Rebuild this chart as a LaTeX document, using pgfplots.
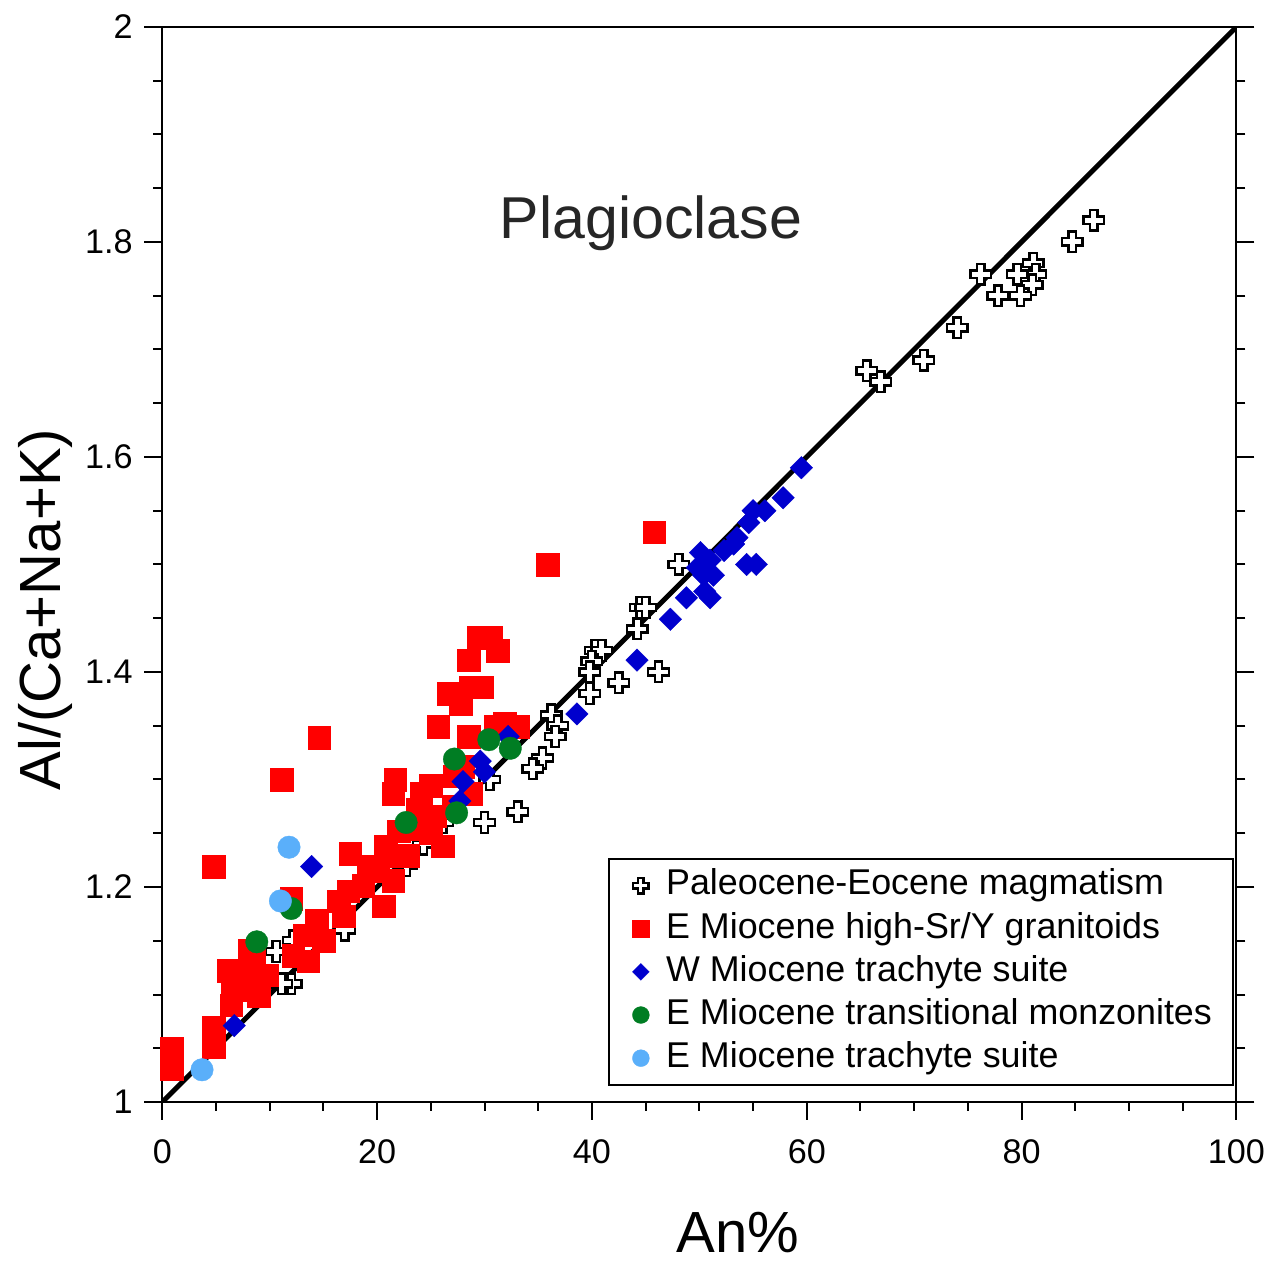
\documentclass[border=0pt]{standalone}
\usepackage{fontspec}
\setmainfont{Liberation Sans}
\usepackage{pgfplots}
\pgfplotsset{compat=1.18}
\usepackage{pgfplotstable}

\definecolor{pred}{RGB}{255,0,0}
\definecolor{pblue}{RGB}{0,0,205}
\definecolor{pgreen}{RGB}{0,125,35}
\definecolor{plblue}{RGB}{90,175,250}

\pgfdeclareplotmark{ocross}{%
  \pgfpathmoveto{\pgfqpoint{0.36\pgfplotmarksize}{\pgfplotmarksize}}%
  \pgfpathlineto{\pgfqpoint{0.36\pgfplotmarksize}{0.36\pgfplotmarksize}}%
  \pgfpathlineto{\pgfqpoint{\pgfplotmarksize}{0.36\pgfplotmarksize}}%
  \pgfpathlineto{\pgfqpoint{\pgfplotmarksize}{-0.36\pgfplotmarksize}}%
  \pgfpathlineto{\pgfqpoint{0.36\pgfplotmarksize}{-0.36\pgfplotmarksize}}%
  \pgfpathlineto{\pgfqpoint{0.36\pgfplotmarksize}{-\pgfplotmarksize}}%
  \pgfpathlineto{\pgfqpoint{-0.36\pgfplotmarksize}{-\pgfplotmarksize}}%
  \pgfpathlineto{\pgfqpoint{-0.36\pgfplotmarksize}{-0.36\pgfplotmarksize}}%
  \pgfpathlineto{\pgfqpoint{-\pgfplotmarksize}{-0.36\pgfplotmarksize}}%
  \pgfpathlineto{\pgfqpoint{-\pgfplotmarksize}{0.36\pgfplotmarksize}}%
  \pgfpathlineto{\pgfqpoint{-0.36\pgfplotmarksize}{0.36\pgfplotmarksize}}%
  \pgfpathlineto{\pgfqpoint{-0.36\pgfplotmarksize}{\pgfplotmarksize}}%
  \pgfpathclose
  \pgfusepathqfillstroke}

\pgfplotstableread{
x y
86.7 1.820
84.7 1.800
81.1 1.780
81.3 1.770
79.6 1.770
81.0 1.760
79.9 1.750
77.8 1.750
76.2 1.770
74.0 1.720
70.9 1.690
65.6 1.680
66.9 1.670
48.1 1.500
44.5 1.460
45.0 1.460
44.2 1.440
42.5 1.390
46.2 1.400
40.3 1.420
40.9 1.420
40.0 1.410
39.8 1.400
39.8 1.380
36.2 1.360
36.8 1.350
36.6 1.340
35.4 1.320
34.5 1.310
33.1 1.270
30.0 1.260
30.5 1.300
26.1 1.260
24.3 1.240
22.7 1.220
17.0 1.160
12.2 1.150
10.6 1.140
12.0 1.110
11.1 1.110
}\tabPE

\pgfplotstableread{
x y
45.8 1.530
35.9 1.500
14.6 1.339
11.1 1.300
4.8 1.219
12.0 1.189
17.5 1.231
0.9 1.050
0.9 1.031
4.8 1.069
4.8 1.051
6.5 1.108
6.4 1.090
6.2 1.122
7.6 1.122
8.1 1.104
8.5 1.136
9.7 1.118
9.0 1.099
8.1 1.141
12.2 1.136
13.2 1.155
14.4 1.169
13.6 1.131
15.0 1.150
16.4 1.187
17.3 1.196
16.9 1.173
18.7 1.201
20.1 1.215
20.6 1.182
21.0 1.229
21.5 1.206
20.8 1.238
22.0 1.252
23.5 1.254
25.0 1.250
23.8 1.272
25.4 1.266
24.1 1.287
25.0 1.294
21.7 1.300
21.5 1.287
27.2 1.303
28.7 1.287
25.7 1.349
28.5 1.340
31.0 1.349
31.9 1.352
33.1 1.349
27.8 1.370
26.6 1.380
28.7 1.386
28.5 1.411
29.4 1.432
30.6 1.432
31.2 1.420
29.8 1.386
22.9 1.229
26.1 1.238
27.1 1.275
28.0 1.312
19.2 1.219
}\tabRed

\pgfplotstableread{
x y
59.5 1.590
57.8 1.562
56.1 1.550
55.0 1.550
54.6 1.539
53.5 1.525
53.2 1.519
52.3 1.513
55.3 1.500
54.4 1.500
50.1 1.511
51.0 1.504
49.8 1.497
51.3 1.490
50.4 1.490
50.5 1.475
51.0 1.469
48.8 1.469
47.3 1.449
44.2 1.411
38.6 1.361
32.2 1.340
29.6 1.317
30.0 1.307
28.0 1.298
27.7 1.280
13.9 1.219
6.7 1.071
}\tabBlue

\pgfplotstableread{
x y
32.4 1.329
30.4 1.337
27.2 1.319
27.4 1.269
22.7 1.260
12.0 1.180
8.8 1.149
}\tabGreen

\pgfplotstableread{
x y
11.8 1.237
11.0 1.187
3.7 1.030
}\tabLBlue

\begin{document}
\begin{tikzpicture}
\path (-48.9pt,-48pt) rectangle (333.9pt,332.1pt);
\begin{axis}[
  scale only axis, width=323.7pt, height=324pt,
  xmin=0, xmax=100, ymin=1, ymax=2,
  xtick={0,20,40,60,80,100}, ytick={1,1.2,1.4,1.6,1.8,2},
  minor x tick num=3, minor y tick num=3,
  tick align=outside, xtick pos=bottom, ytick pos=both, yticklabel pos=left,
  major tick length=5.4pt, minor tick length=2.7pt,
  axis line style={line width=0.6pt},
  every tick/.style={black, line width=0.6pt},
  tick label style={font=\fontsize{10.3}{12}\selectfont},
  xticklabel style={yshift=-2.5pt},
  /pgf/number format/assume math mode=true,
  xlabel={An\%}, ylabel={Al/(Ca+Na+K)},
  label style={font=\fontsize{17.5}{20}\selectfont, inner sep=0pt},
  xlabel style={at={(axis description cs:0.536,-0.14)}, anchor=base},
  ylabel style={at={(axis description cs:-0.109,0.458)}, anchor=center},
  legend style={at={(0.415,0.2269)}, anchor=north west, draw=black, line width=0.6pt,
    font=\fontsize{10.8}{13}\selectfont, inner xsep=3pt, inner ysep=2.2pt,
    row sep=1.4pt,
    nodes={text height=7.8pt, text depth=2.2pt, inner ysep=0.8pt, inner xsep=3.4pt}},
  legend cell align=left,
  legend image code/.code={%
    \path (0pt,0pt) (10.2pt,0pt);
    \draw[only marks,#1,/tikz/every mark/.append style={scale=0.75}] plot coordinates {(6.3pt,0pt)};},
]
\addplot[black, line width=1.5pt, forget plot] coordinates {(0,1) (100,2)};
\addplot[only marks, mark=ocross, mark size=3.1pt, mark options={draw=black, fill=white, line width=0.75pt}] table {\tabPE};
\addlegendentry{Paleocene-Eocene magmatism}
\addplot[only marks, mark=square*, mark size=3.4pt, mark options={draw=pred, fill=pred, line width=0.1pt}] table {\tabRed};
\addlegendentry{E Miocene high-Sr/Y granitoids}
\addplot[only marks, mark=square*, mark size=2.4pt, mark options={rotate=45, draw=pblue, fill=pblue, line width=0.1pt}] table {\tabBlue};
\addlegendentry{W Miocene trachyte suite}
\addplot[only marks, mark=*, mark size=3.4pt, mark options={draw=pgreen, fill=pgreen, line width=0.1pt}] table {\tabGreen};
\addlegendentry{E Miocene transitional monzonites}
\addplot[only marks, mark=*, mark size=3.4pt, mark options={draw=plblue, fill=plblue, line width=0.1pt}] table {\tabLBlue};
\addlegendentry{E Miocene trachyte suite}
\node[font=\fontsize{17.8}{20}\selectfont, anchor=base, text=black!85] at (axis cs:45.5,1.803) {Plagioclase};
\end{axis}
\end{tikzpicture}
\end{document}
